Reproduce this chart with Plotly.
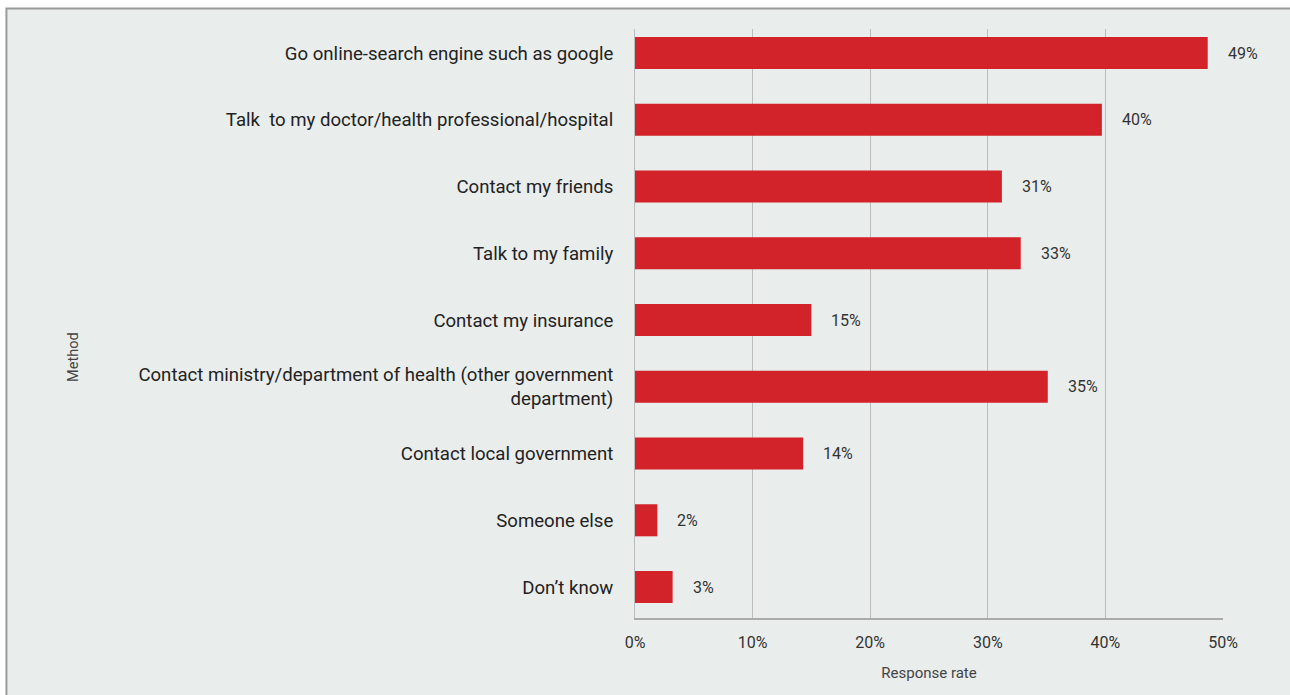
import plotly.graph_objects as go

# Survey responses: where people go for health information
methods = [
    "Go online-search engine such as google",
    "Talk \u00a0to my doctor/health professional/hospital",
    "Contact my friends",
    "Talk to my family",
    "Contact my insurance",
    "Contact ministry/department of health (other government<br>department)",
    "Contact local government",
    "Someone else",
    "Don\u2019t know",
]
response_rate = [48.7, 39.7, 31.2, 32.8, 15.0, 35.1, 14.3, 1.9, 3.2]
rate_labels = ["49%", "40%", "31%", "33%", "15%", "35%", "14%", "2%", "3%"]
x_ticks = [0, 10, 20, 30, 40, 50]
x_tick_labels = ["0%", "10%", "20%", "30%", "40%", "50%"]

BG = "#e9edec"
RED = "#d2232a"
GRID = "#bcbcbc"
TEXT = "#222222"
FONT = "Roboto"

fig = go.Figure()
fig.add_trace(go.Bar(
    x=response_rate,
    y=methods,
    orientation="h",
    width=0.48,
    marker=dict(color=RED, line=dict(width=0)),
    hoverinfo="skip",
))

# value labels to the right of each bar
for m, v, lab in zip(methods, response_rate, rate_labels):
    fig.add_annotation(
        x=v, y=m, xref="x", yref="y", text=lab, showarrow=False,
        xanchor="left", xshift=18,
        font=dict(family=FONT, size=16, color="#333333"),
    )

# panel frame
fig.add_shape(
    type="rect", xref="paper", yref="paper",
    x0=-1.069, x1=1.2, y0=-0.2, y1=1.035,
    fillcolor=BG, line=dict(color="#9a9a9a", width=2), layer="below",
)

fig.add_annotation(
    text="Method", xref="paper", yref="paper", x=-0.956, y=0.443,
    xanchor="center", yanchor="middle",
    textangle=-90, showarrow=False,
    font=dict(family=FONT, size=14.5, color="#444444"),
)

fig.update_layout(
    width=1290, height=695,
    margin=dict(l=635, r=67, t=29, b=77),
    paper_bgcolor="white",
    plot_bgcolor=BG,
    showlegend=False,
    bargap=0.5,
    font=dict(family=FONT, color=TEXT),
    xaxis=dict(
        range=[0, 50],
        tickvals=x_ticks, ticktext=x_tick_labels,
        showgrid=True, gridcolor=GRID, gridwidth=1,
        zeroline=False,
        showline=True, linecolor="#aaaaaa", linewidth=2,
        ticks="", ticklabelstandoff=9,
        tickfont=dict(family=FONT, size=16, color="#333333"),
        title=dict(text="Response rate", standoff=16,
                   font=dict(family=FONT, size=15, color="#444444")),
        fixedrange=True,
    ),
    yaxis=dict(
        categoryorder="array", categoryarray=methods,
        range=[8.464, -0.36],
        showgrid=False, zeroline=False,
        showline=True, linecolor=GRID, linewidth=1,
        ticks="", ticklabelstandoff=17,
        tickfont=dict(family=FONT, size=18.6, color=TEXT),
        fixedrange=True,
    ),
)

fig.write_html("out.html")
